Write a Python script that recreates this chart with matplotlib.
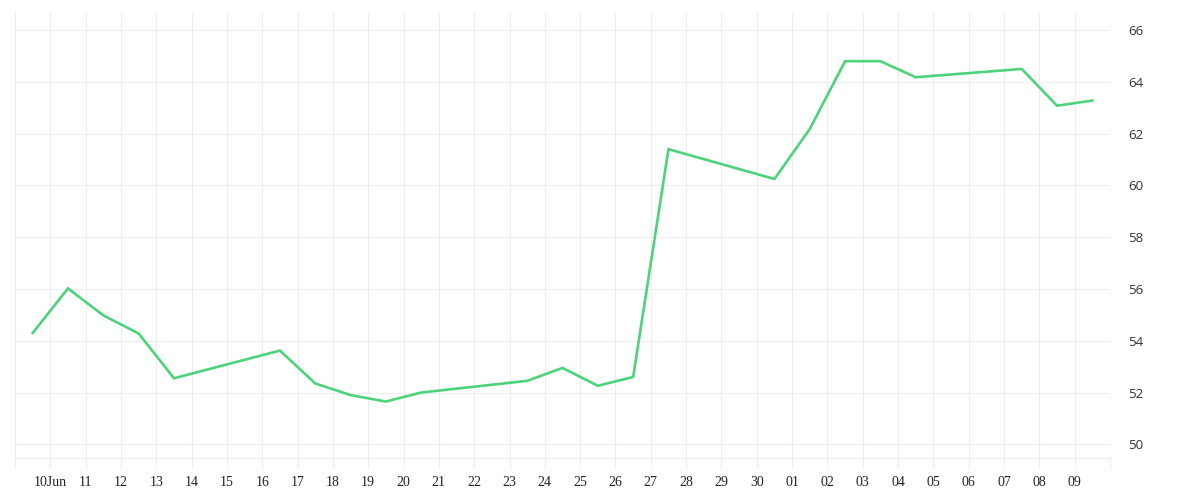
import matplotlib
matplotlib.use("Agg")
import matplotlib.pyplot as plt
import pandas as pd

dates = ["2014-06-09", "2014-06-10", "2014-06-11", "2014-06-12", "2014-06-13",
         "2014-06-16", "2014-06-17", "2014-06-18", "2014-06-19", "2014-06-20",
         "2014-06-23", "2014-06-24", "2014-06-25", "2014-06-26", "2014-06-27",
         "2014-06-30", "2014-07-01", "2014-07-02", "2014-07-03", "2014-07-04",
         "2014-07-07", "2014-07-08", "2014-07-09"]
values = [54.30, 56.02, 54.98, 54.28, 52.55,
          53.62, 52.35, 51.90, 51.65, 52.00,
          52.45, 52.95, 52.26, 52.60, 61.40,
          60.25, 62.18, 64.80, 64.80, 64.18,
          64.50, 63.08, 63.28]
y_ticks = [50, 52, 54, 56, 58, 60, 62, 64, 66]
x_start, x_end = "2014-06-09", "2014-07-10"

grid_color = "#ededed"
line_color = "#4cd37b"

x = pd.to_datetime(dates) + pd.Timedelta(hours=12)
tick_days = pd.date_range(x_start, x_end, freq="D")
tick_labels = []
for i, d in enumerate(tick_days):
    if i == 0 or i == len(tick_days) - 1:
        tick_labels.append("")
    elif d.day == 10 and d.month == 6:
        tick_labels.append("10Jun")
    else:
        tick_labels.append(d.strftime("%d"))

fig = plt.figure(figsize=(12, 5), dpi=100)
ax = fig.add_axes([15 / 1200, 42 / 500, 1095 / 1200, 446 / 500])

ax.plot(x, values, color=line_color, linewidth=1.9, solid_joinstyle="miter", zorder=3)

ax.set_xlim(pd.Timestamp(x_start), pd.Timestamp(x_end))
ax.set_ylim(49.47, 66.70)

ax.set_xticks(tick_days)
ax.set_xticklabels(tick_labels, fontfamily="Liberation Serif", fontsize=10, color="#222222")
ax.set_yticks(y_ticks)
ax.set_yticklabels([str(v) for v in y_ticks], fontfamily="Open Sans", fontsize=9.5,
                   color="#333333")
for lbl in ax.get_yticklabels():
    lbl.set_y(lbl.get_position()[1])
    lbl.set_verticalalignment("center")

ax.yaxis.tick_right()
ax.tick_params(axis="y", length=0, pad=13)
ax.tick_params(axis="x", length=7.2, width=0.8, color=grid_color, pad=6)

ax.grid(True, color=grid_color, linewidth=0.8, zorder=0)
ax.set_axisbelow(True)
for s in ["left", "right", "top"]:
    ax.spines[s].set_visible(False)
ax.spines["bottom"].set_color(grid_color)
ax.spines["bottom"].set_linewidth(0.8)

fig.savefig("out.png", dpi=100)
